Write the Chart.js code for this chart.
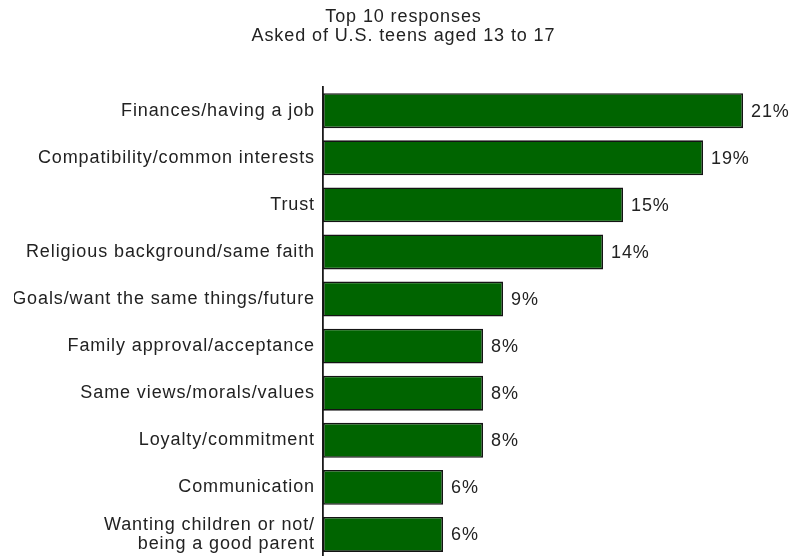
<!DOCTYPE html>
<html>
<head>
<meta charset="utf-8">
<script src="https://cdn.jsdelivr.net/npm/chart.js@4/dist/chart.umd.min.js"></script>
<style>
  html, body { margin: 0; padding: 0; background: #fff; overflow: hidden; }
  #wrap { width: 793px; height: 558px; }
</style>
</head>
<body>
<div id="wrap"><canvas id="c" width="793" height="558"></canvas></div>
<script>
// Top 10 responses, share of teens naming each quality
const titleLines = ['Top 10 responses', 'Asked of U.S. teens aged 13 to 17'];
const categories = [
  'Finances/having a job',
  'Compatibility/common interests',
  'Trust',
  'Religious background/same faith',
  'Goals/want the same things/future',
  'Family approval/acceptance',
  'Same views/morals/values',
  'Loyalty/commitment',
  'Communication',
  ['Wanting children or not/', 'being a good parent']
];
const percentages = [21, 19, 15, 14, 9, 8, 8, 8, 6, 6];

const FONT_FAMILY = '"Liberation Sans", Arial, Helvetica, sans-serif';
const TEXT_COLOR = '#222222';

// Slightly open tracking, like small hinted Arial
const tracking = {
  id: 'tracking',
  beforeUpdate(chart) { chart.ctx.letterSpacing = '0.9px'; },
  beforeDraw(chart) { chart.ctx.letterSpacing = '0.9px'; }
};

// Percentage label at the end of every bar
const valueLabels = {
  id: 'valueLabels',
  afterDatasetsDraw(chart) {
    const ctx = chart.ctx;
    const meta = chart.getDatasetMeta(0);
    const data = chart.data.datasets[0].data;
    ctx.save();
    ctx.font = '18px ' + FONT_FAMILY;
    ctx.fillStyle = TEXT_COLOR;
    ctx.textAlign = 'left';
    ctx.textBaseline = 'middle';
    meta.data.forEach((bar, i) => {
      ctx.fillText(data[i] + '%', bar.x + 8, bar.y + 1);
    });
    ctx.restore();
  }
};

new Chart(document.getElementById('c'), {
  type: 'bar',
  data: {
    labels: categories,
    datasets: [{
      data: percentages,
      backgroundColor: '#006400',
      borderColor: '#141414',
      borderWidth: 1.6,
      borderSkipped: false,
      barPercentage: 0.743,
      categoryPercentage: 1
    }]
  },
  options: {
    indexAxis: 'y',
    responsive: false,
    animation: false,
    devicePixelRatio: 1,
    layout: { padding: { left: 14, right: 0, top: 0, bottom: 0 } },
    plugins: {
      legend: { display: false },
      tooltip: { enabled: false },
      title: {
        display: true,
        text: titleLines,
        color: TEXT_COLOR,
        font: { family: FONT_FAMILY, size: 18, weight: 'normal', lineHeight: 1.06 },
        padding: { top: 7, bottom: 42 }
      }
    },
    scales: {
      x: {
        display: false,
        min: 0,
        max: 23.5
      },
      y: {
        afterFit(scale) {
          scale.width = 309;
          // the category rows run right to the bottom edge
          scale.paddingTop = 0;
          scale.paddingBottom = 0;
        },
        grid: { display: false, drawTicks: false },
        border: { display: true, color: '#1a1a1a', width: 1.8 },
        ticks: {
          color: TEXT_COLOR,
          padding: 8,
          font: { family: FONT_FAMILY, size: 18, lineHeight: 1.05 }
        }
      }
    }
  },
  plugins: [tracking, valueLabels]
});
</script>
</body>
</html>
